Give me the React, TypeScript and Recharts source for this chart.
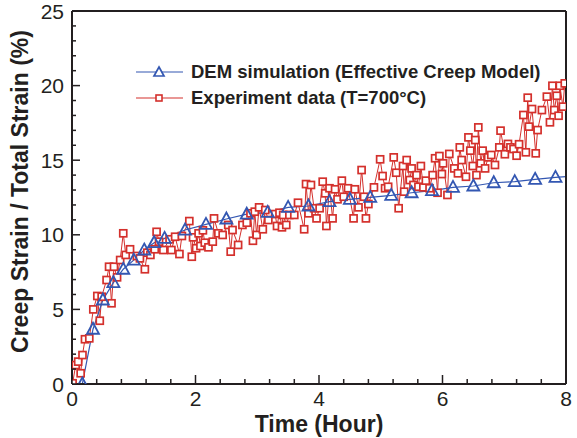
import React from 'react'
import { LineChart, Line, XAxis, YAxis, Legend } from 'recharts'

// [time (hour), strain (%)]
const DEM_POINTS: [number, number][] = [
  [0.167, 0], [0.34, 3.67], [0.5, 5.63], [0.67, 6.79], [0.83, 7.69], [1.0, 8.3],
  [1.17, 8.98], [1.33, 9.47], [1.5, 9.76], [1.83, 10.32], [2.17, 10.7], [2.5, 11.06],
  [2.83, 11.38], [3.17, 11.5], [3.5, 11.84], [3.83, 11.93], [4.17, 12.22], [4.5, 12.38],
  [4.83, 12.51], [5.17, 12.64], [5.5, 12.82], [5.83, 12.96], [6.17, 13.18], [6.5, 13.27],
  [6.83, 13.49], [7.17, 13.56], [7.5, 13.72], [7.83, 13.85], [8.0, 13.9],
]

const EXPERIMENT_POINTS: [number, number][] = [
  [0.01, 0.05], [0.06, 1.27], [0.1, 1.5], [0.14, 0.72], [0.17, 1.94], [0.21, 3.0],
  [0.28, 3.06], [0.345, 5.0], [0.41, 5.9], [0.45, 4.24], [0.48, 5.85], [0.56, 6.97],
  [0.6, 7.86], [0.64, 5.41], [0.68, 7.86], [0.73, 7.15], [0.78, 8.31], [0.83, 10.1],
  [0.87, 8.65], [0.94, 9.03], [1.05, 8.58], [1.1, 8.42], [1.18, 7.69], [1.22, 8.8],
  [1.27, 8.65], [1.34, 9.03], [1.37, 10.2], [1.41, 9.54], [1.48, 8.98], [1.58, 9.7],
  [1.61, 8.98], [1.67, 9.87], [1.74, 8.71], [1.78, 9.92], [1.9, 10.92], [1.94, 8.53],
  [1.96, 9.83], [2.01, 9.1], [2.05, 10.1], [2.08, 9.25], [2.12, 10.3], [2.15, 9.47],
  [2.21, 9.16], [2.28, 9.54], [2.3, 11.1], [2.37, 10.1], [2.44, 9.99], [2.53, 10.66],
  [2.57, 8.87], [2.6, 10.32], [2.69, 9.32], [2.76, 10.66], [2.83, 10.81], [2.89, 11.44],
  [2.93, 9.6], [2.96, 11.55], [2.99, 9.99], [3.03, 11.84], [3.09, 10.37], [3.13, 11.66],
  [3.18, 10.99], [3.29, 11.39], [3.32, 10.59], [3.36, 11.48], [3.4, 10.5], [3.42, 11.33],
  [3.47, 10.66], [3.52, 11.33], [3.6, 11.33], [3.66, 12.15], [3.76, 10.37], [3.79, 13.4],
  [3.83, 11.44], [3.87, 13.34], [3.92, 11.78], [3.96, 11.1], [4.01, 11.78], [4.06, 13.56],
  [4.1, 12.78], [4.12, 10.59], [4.17, 13.12], [4.22, 11.1], [4.26, 13.05], [4.3, 12.38],
  [4.37, 13.63], [4.4, 12.55], [4.47, 13.12], [4.56, 11.1], [4.58, 13.05], [4.64, 11.84],
  [4.69, 14.34], [4.73, 12.55], [4.76, 11.1], [4.8, 12.06], [4.89, 13.18], [4.99, 15.06],
  [5.03, 13.94], [5.07, 13.12], [5.12, 13.22], [5.21, 15.19], [5.25, 14.16], [5.29, 11.78],
  [5.36, 14.61], [5.38, 12.89], [5.42, 15.01], [5.47, 13.67], [5.5, 14.45], [5.53, 13.34],
  [5.58, 14.0], [5.61, 13.22], [5.65, 14.61], [5.69, 13.18], [5.73, 13.63], [5.79, 13.12],
  [5.84, 14.0], [5.88, 15.13], [5.92, 12.82], [5.95, 15.28], [5.99, 14.07], [6.01, 14.79],
  [6.08, 12.67], [6.11, 15.42], [6.19, 14.45], [6.25, 14.12], [6.28, 15.86], [6.31, 15.01],
  [6.38, 13.89], [6.42, 16.53], [6.45, 15.64], [6.49, 14.61], [6.53, 16.35], [6.55, 14.0],
  [6.58, 17.2], [6.62, 14.79], [6.65, 15.64], [6.69, 14.45], [6.74, 15.19], [6.79, 15.35],
  [6.85, 14.68], [6.92, 15.86], [6.94, 16.98], [7.01, 15.4], [7.06, 16.09], [7.1, 15.86],
  [7.15, 15.75], [7.2, 15.3], [7.24, 16.07], [7.31, 18.03], [7.35, 15.53], [7.38, 19.19],
  [7.4, 17.25], [7.45, 18.43], [7.51, 15.46], [7.54, 17.02], [7.61, 18.36], [7.69, 19.26],
  [7.74, 17.54], [7.78, 19.99], [7.81, 18.36], [7.85, 19.32], [7.88, 17.98], [7.9, 19.99],
  [7.95, 18.59], [7.98, 20.15],
]

const X_TICKS = [0, 2, 4, 6, 8]
const X_ALL_TICKS = [0, 0.4, 0.8, 1.2, 1.6, 2, 2.4, 2.8, 3.2, 3.6, 4, 4.4, 4.8, 5.2, 5.6, 6, 6.4, 6.8, 7.2, 7.6, 8]
const Y_TICKS = [0, 5, 10, 15, 20, 25]
const Y_ALL_TICKS = [
  0, 1, 2, 3, 4, 5, 6, 7, 8, 9, 10, 11, 12, 13, 14, 15, 16, 17, 18, 19, 20, 21, 22, 23, 24, 25,
]

const DEM_NAME = 'DEM simulation (Effective Creep Model)'
const EXP_NAME = 'Experiment data (T=700°C)'

const demData = DEM_POINTS.map(([t, strain]) => ({ t, strain }))
const expData = EXPERIMENT_POINTS.map(([t, strain]) => ({ t, strain }))

const INK = '#231f20'
const BLUE = '#3357b2'
const RED = '#d4302c'
const FONT = '"Liberation Sans", Arial, Helvetica, sans-serif'
const TICK_FONT = 21
const X_TICK_MARGIN = 7
const Y_TICK_MARGIN = 8

// tick marks point into the plot, labels only on the major ticks
function XTick(props: any) {
  const { x, y, payload } = props
  const major = X_TICKS.includes(payload.value)
  const axisY = y - X_TICK_MARGIN
  return (
    <g>
      <line x1={x} x2={x} y1={axisY} y2={axisY - (major ? 9 : 5)} stroke={INK} strokeWidth={1.5} />
      {major && (
        <text x={x} y={y} dy="0.71em" textAnchor="middle" fill={INK} fontSize={TICK_FONT} fontFamily={FONT}>
          {payload.value}
        </text>
      )}
    </g>
  )
}

function YTick(props: any) {
  const { x, y, payload } = props
  const major = Y_TICKS.includes(payload.value)
  const axisX = x + Y_TICK_MARGIN
  return (
    <g>
      <line x1={axisX} x2={axisX + (major ? 8 : 4)} y1={y} y2={y} stroke={INK} strokeWidth={1.5} />
      {major && (
        <text x={x} y={y} dy="0.36em" textAnchor="end" fill={INK} fontSize={TICK_FONT} fontFamily={FONT}>
          {payload.value}
        </text>
      )}
    </g>
  )
}

function triangleDot(props: any) {
  const { cx, cy, index } = props
  if (cx == null || cy == null || index === DEM_POINTS.length - 1) return <g key={`dem-${index}`} />
  return (
    <path
      key={`dem-${index}`}
      d={`M${cx},${cy - 6.5} L${cx + 6},${cy + 4.5} L${cx - 6},${cy + 4.5} Z`}
      fill="none"
      stroke={BLUE}
      strokeWidth={1.8}
    />
  )
}

function squareDot(props: any) {
  const { cx, cy, index } = props
  if (cx == null || cy == null) return <g key={`exp-${index}`} />
  return (
    <rect
      key={`exp-${index}`}
      x={cx - 3.5}
      y={cy - 3.5}
      width={7}
      height={7}
      fill="#fff"
      stroke={RED}
      strokeWidth={1.7}
    />
  )
}

function LegendBox() {
  const rows = [
    { name: DEM_NAME, color: BLUE, tri: true },
    { name: EXP_NAME, color: RED, tri: false },
  ]
  return (
    <div style={{ fontFamily: FONT, fontWeight: 'bold', fontSize: 18.5, color: INK }}>
      {rows.map((r) => (
        <div key={r.name} style={{ display: 'flex', alignItems: 'center', height: 26 }}>
          <svg width={48} height={26} style={{ marginRight: 7 }}>
            <line x1={0} y1={13} x2={47} y2={13} stroke={r.color} strokeWidth={1.2} />
            {r.tri ? (
              <path d="M23,8 L28,17 L18,17 Z" fill="#fff" stroke={r.color} strokeWidth={1.7} />
            ) : (
              <rect x={20} y={10} width={6} height={6} fill="#fff" stroke={r.color} strokeWidth={1.6} />
            )}
          </svg>
          <span style={{ whiteSpace: 'nowrap' }}>{r.name}</span>
        </div>
      ))}
    </div>
  )
}

export default function App() {
  return (
    <div style={{ position: 'absolute', left: 0, top: 0, background: '#fff' }}>
      <LineChart width={577} height={438} margin={{ top: 11, right: 11, bottom: 0, left: 0 }}>
        <XAxis
          dataKey="t"
          type="number"
          domain={[0, 8]}
          ticks={X_ALL_TICKS}
          interval={0}
          allowDataOverflow
          height={54}
          tickLine={false}
          tickSize={0}
          tickMargin={X_TICK_MARGIN}
          axisLine={{ stroke: INK, strokeWidth: 2 }}
          tick={XTick}
          label={{
            value: 'Time (Hour)',
            position: 'insideBottom',
            offset: 6,
            style: { fill: INK, fontSize: 23, fontWeight: 'bold', fontFamily: FONT },
          }}
        />
        <XAxis xAxisId="xTop" orientation="top" type="number" domain={[0, 8]} allowDataOverflow mirror
          ticks={X_TICKS} tick={false} tickLine={false} axisLine={{ stroke: INK, strokeWidth: 2 }} />
        <YAxis
          type="number"
          domain={[0, 25]}
          ticks={Y_ALL_TICKS}
          interval={0}
          allowDataOverflow
          width={72}
          tickLine={false}
          tickSize={0}
          tickMargin={Y_TICK_MARGIN}
          axisLine={{ stroke: INK, strokeWidth: 2 }}
          tick={YTick}
          label={{
            value: 'Creep Strain / Total Strain (%)',
            angle: -90,
            position: 'insideLeft',
            offset: 20,
            dy: -6,
            style: { textAnchor: 'middle', fill: INK, fontSize: 23, fontWeight: 'bold', fontFamily: FONT },
          }}
        />
        <YAxis yAxisId="yRight" orientation="right" type="number" domain={[0, 25]} allowDataOverflow mirror
          ticks={Y_TICKS} tick={false} tickLine={false} axisLine={{ stroke: INK, strokeWidth: 2 }} />
        <Legend
          layout="vertical"
          align="center"
          verticalAlign="middle"
          content={() => <LegendBox />}
          wrapperStyle={{ position: 'absolute', left: 136, top: 59, width: 'auto', height: 'auto' }}
        />
        <Line
          data={expData}
          dataKey="strain"
          name={EXP_NAME}
          type="linear"
          stroke={RED}
          strokeWidth={1}
          dot={squareDot}
          activeDot={false}
          isAnimationActive={false}
        />
        <Line
          data={demData}
          dataKey="strain"
          name={DEM_NAME}
          type="linear"
          stroke={BLUE}
          strokeWidth={1.2}
          dot={triangleDot}
          activeDot={false}
          isAnimationActive={false}
        />
      </LineChart>
    </div>
  )
}
